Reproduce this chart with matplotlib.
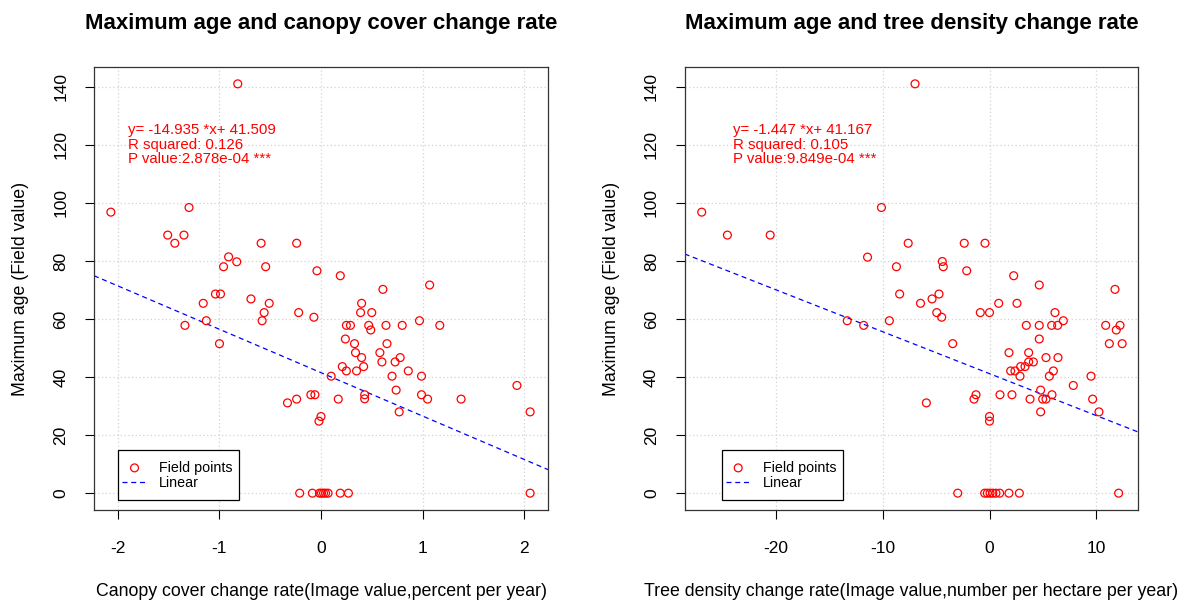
import numpy as np
import matplotlib
matplotlib.use("Agg")
import matplotlib.pyplot as plt
from matplotlib.patches import Rectangle

plt.rcParams['font.family'] = ['Liberation Sans', 'DejaVu Sans']
plt.rcParams['axes.unicode_minus'] = False

# left panel: canopy cover change rate vs maximum age
canopy_rate = [-0.82, -2.07, -1.30, -1.51, -1.44, -1.35, -0.59, -0.24, -0.91, -0.96,
               -0.83, -0.545, -0.04, 0.19, 0.61, 1.07, -1.04, -0.99, -1.16, -0.69,
               -0.51, -0.56, -0.58, -0.22, -0.07, -1.13, -1.34, -1.00, 0.25, 0.29,
               0.24, 0.21, 0.25, 0.10, -0.10, -0.06, -0.24, -0.33, 0.17, 0.00,
               -0.02, 0.40, 0.39, 0.50, 0.47, 0.49, 0.64, 0.80, 0.97, 1.17,
               0.33, 0.65, 0.34, 0.40, 0.58, 0.60, 0.73, 0.78, 0.35, 0.42,
               0.86, 0.70, 0.99, 0.74, 0.43, 0.43, 0.99, 1.05, 1.38, 0.77,
               1.93, 2.06,
               -0.21, -0.085, -0.015, 0.005, 0.025, 0.045, 0.07, 0.19, 0.27, 2.06]
canopy_age = [141, 96.8, 98.4, 88.9, 86.1, 88.9, 86.1, 86.1, 81.4, 78.0,
              79.7, 78.0, 76.6, 74.9, 70.2, 71.7, 68.6, 68.6, 65.4, 66.9,
              65.4, 62.2, 59.4, 62.2, 60.6, 59.4, 57.8, 51.5, 57.8, 57.8,
              53.1, 43.6, 42.1, 40.3, 33.9, 33.9, 32.4, 31.1, 32.4, 26.4,
              24.8, 65.4, 62.2, 62.2, 57.8, 56.2, 57.8, 57.8, 59.4, 57.8,
              51.5, 51.5, 48.4, 46.7, 48.4, 45.2, 45.2, 46.7, 42.1, 43.6,
              42.1, 40.3, 40.3, 35.5, 33.9, 32.5, 33.9, 32.4, 32.4, 28.0,
              37.1, 28.0,
              0, 0, 0, 0, 0, 0, 0, 0, 0, 0]

# right panel: tree density change rate vs maximum age
density_rate = [-6.96, -26.9, -24.5, -20.5, -10.1, -7.6, -11.4, -8.7, -2.36, -0.42,
                -4.41, -4.32, -2.13, 2.26, 4.65, 11.73, -13.3, -11.76, -9.36, -8.4,
                -6.45, -5.37, -4.72, -4.93, -4.47, -0.86, 0.0, 0.86, 2.57, -3.44,
                3.44, 4.65, 5.81, 6.37, 6.12, 6.90, 4.65, 1.82, 3.66, 5.28,
                6.40, 3.66, 4.10, 3.32, 2.91, 1.98, 2.38, 2.85, 5.97, 5.59,
                7.83, 9.49, 4.78, -1.26, -1.45, 0.98, 2.10, 3.79, 4.97, 5.28,
                5.84, 9.64, 4.78, 10.23, -5.9, 0.0, 0.0, 10.86, 12.2, 11.85,
                11.2, 12.4,
                -2.97, -0.45, -0.2, 0.05, 0.3, 0.6, 0.95, 1.82, 2.79, 12.07]
density_age = [141, 96.8, 88.9, 88.9, 98.4, 86.1, 81.3, 78.0, 86.1, 86.1,
               79.8, 78.0, 76.6, 74.9, 71.7, 70.2, 59.4, 57.8, 59.4, 68.6,
               65.4, 66.9, 68.6, 62.2, 60.6, 62.2, 62.2, 65.4, 65.4, 51.5,
               57.8, 57.8, 57.8, 57.8, 62.2, 59.4, 53.1, 48.4, 48.4, 46.7,
               46.7, 45.2, 45.2, 43.6, 43.6, 42.1, 42.1, 40.3, 42.1, 40.3,
               37.1, 40.3, 35.5, 33.9, 32.4, 33.9, 33.9, 32.4, 32.4, 32.4,
               33.9, 32.4, 28.0, 28.0, 31.1, 26.4, 24.8, 57.8, 57.8, 56.2,
               51.5, 51.5,
               0, 0, 0, 0, 0, 0, 0, 0, 0, 0]

# fitted coefficients printed on the chart
canopy_fit = (-14.935, 41.509)
density_fit = (-1.447, 41.167)
canopy_stats = ["y= -14.935 *x+ 41.509", "R squared: 0.126", "P value:2.878e-04 ***"]
density_stats = ["y= -1.447 *x+ 41.167", "R squared: 0.105", "P value:9.849e-04 ***"]

canopy_ticks = [-2, -1, 0, 1, 2]
density_ticks = [-20, -10, 0, 10]
age_ticks = [0, 20, 40, 60, 80, 100, 120, 140]

fig = plt.figure(figsize=(11.84, 6), dpi=100)
ax1 = fig.add_axes([94 / 1184, 90 / 600, 454 / 1184, 443 / 600])
ax2 = fig.add_axes([684.7 / 1184, 90 / 600, 453.3 / 1184, 443 / 600])

# (axes, x, y, fit, stats, xticks, xlim, text x, legend box left / handle left in axes fraction, title, xlabel)
panels = [
    (ax1, canopy_rate, canopy_age, canopy_fit, canopy_stats, canopy_ticks, (-2.236, 2.236), -1.9,
     0.0535, 0.0617,
     "Maximum age and canopy cover change rate",
     "Canopy cover change rate(Image value,percent per year)"),
    (ax2, density_rate, density_age, density_fit, density_stats, density_ticks, (-28.49, 13.88), -24.0,
     0.083, 0.0904,
     "Maximum age and tree density change rate",
     "Tree density change rate(Image value,number per hectare per year)"),
]

for ax, xs, ys, fit, stats, xticks, xlim, text_x, box_x, hand_x, title, xlabel in panels:
    ax.grid(True, color='#d3d3d3', linestyle=(0, (1, 2)), linewidth=0.9)
    ax.set_axisbelow(True)
    ax.scatter(xs, ys, s=32, facecolors='none', edgecolors='#ff0000', linewidths=0.9,
               label="Field points", zorder=3)
    ax.axline((0, fit[1]), slope=fit[0], color='#0000ff', linestyle=(0, (4, 3)),
              linewidth=0.9, label="Linear", zorder=2)
    for i, line in enumerate(stats):
        ax.text(text_x, 125 - 5 * i, line, color='#ff0000', fontsize=10.8,
                ha='left', va='center')

    ax.set_xlim(*xlim)
    ax.set_ylim(-5.8, 146.8)
    ax.set_xticks(xticks)
    ax.set_yticks(age_ticks)
    ax.tick_params(axis='both', direction='out', length=6.5, width=0.8, labelsize=12.5)
    ax.tick_params(axis='x', pad=15.5)
    ax.tick_params(axis='y', pad=12)
    plt.setp(ax.get_yticklabels(), rotation=90, va='center', ha='right')
    for sp in ax.spines.values():
        sp.set_linewidth(0.9)
        sp.set_color('#333333')

    ax.set_title(title, fontsize=16, fontweight='bold', pad=27)
    ax.set_xlabel(xlabel, fontsize=12.8)
    ax.set_ylabel("Maximum age (Field value)", fontsize=12.8)
    ax.xaxis.set_label_coords(0.5, -0.165)
    ax.yaxis.set_label_coords(-0.143, 0.5)

    # legend box drawn like R's: wide vertical padding, tight horizontal padding
    ax.add_patch(Rectangle((box_x, 0.0226), 121 / 454, 0.1128, transform=ax.transAxes,
                           facecolor='white', edgecolor='black', linewidth=0.9, zorder=4.5))
    ax.legend(loc='center left', bbox_to_anchor=(hand_x, 0.0779), borderaxespad=0,
              borderpad=0, frameon=False, fontsize=10.3,
              handlelength=1.75, handletextpad=0.85, labelspacing=0.12)

fig.savefig("out.png", dpi=100)
